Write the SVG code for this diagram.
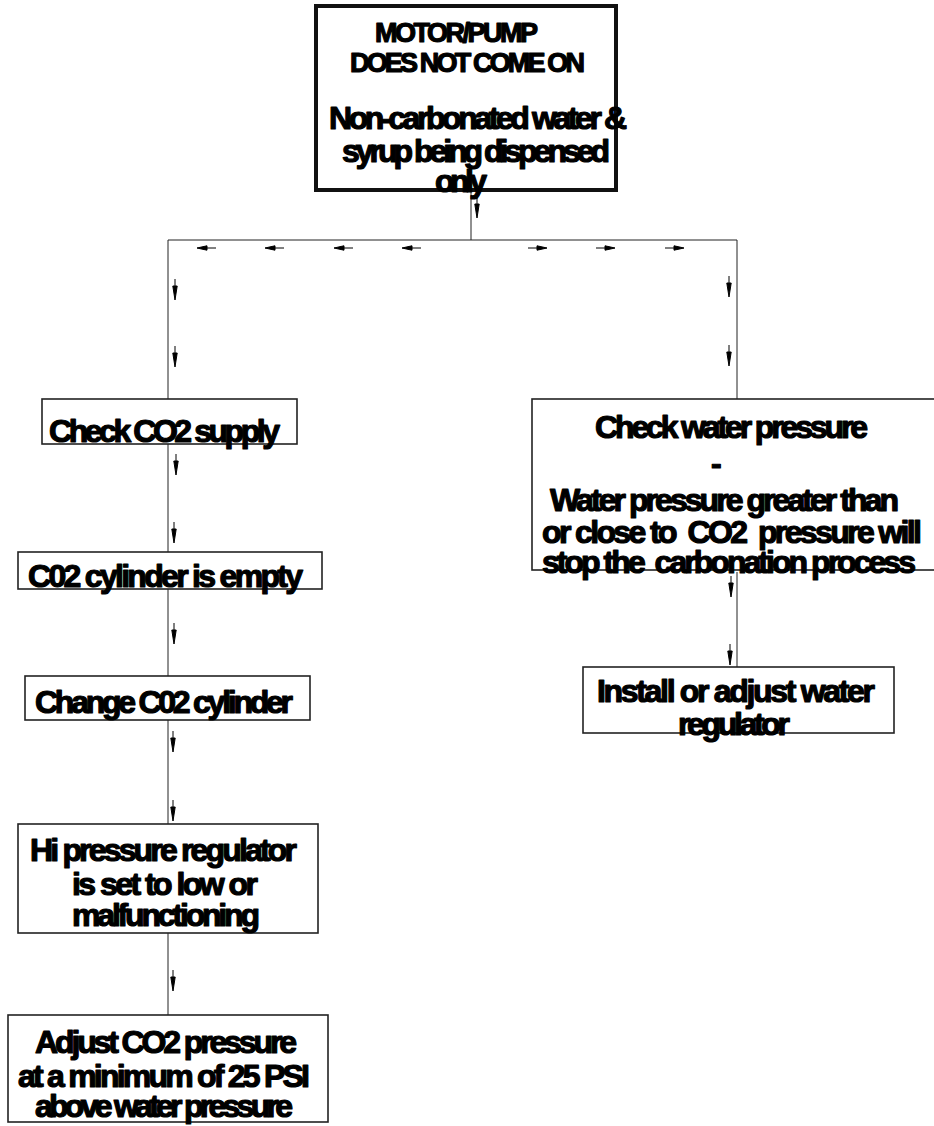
<svg xmlns="http://www.w3.org/2000/svg" xmlns:xlink="http://www.w3.org/1999/xlink" width="934" height="1126" viewBox="0 0 934 1126">
<style>
.t{font-family:"Liberation Sans",Arial,sans-serif;font-weight:bold;font-size:32px;fill:#000;stroke:#000;stroke-width:1.2;stroke-linejoin:round;white-space:pre}
.s{font-size:27px}
.box{fill:none;stroke:#222;stroke-width:1.6}
.thick{fill:none;stroke:#111;stroke-width:4}
.ln{fill:none;stroke:#222;stroke-width:1}
.ar{fill:#000;stroke:#000;stroke-width:1}
</style>
<defs>
<path id="ad" d="M0,0V8M-2.2,7L2.2,7L0,21Z"/>
<path id="al" d="M19,0H9M10,-2.2L10,2.2L0,0Z"/>
<path id="ar" d="M0,0H10M9,-2.2L9,2.2L19,0Z"/>
</defs>
<rect width="934" height="1126" fill="#fff"/>
<g id="connectors">
<path class="ln" d="M471,190V240M168,240H737M168,240V399M737,240V399M168,444V552M168,589V676M168,720V824M168,933V1015M737,572V667"/>
<g class="ar">
<use xlink:href="#ad" x="477" y="197"/>
<use xlink:href="#al" x="197" y="248"/>
<use xlink:href="#al" x="265" y="248"/>
<use xlink:href="#al" x="334" y="248"/>
<use xlink:href="#al" x="402" y="248"/>
<use xlink:href="#ar" x="528" y="248"/>
<use xlink:href="#ar" x="596" y="248"/>
<use xlink:href="#ar" x="665" y="248"/>
<use xlink:href="#ad" x="175" y="279"/>
<use xlink:href="#ad" x="175" y="346"/>
<use xlink:href="#ad" x="729" y="276"/>
<use xlink:href="#ad" x="729" y="345"/>
<use xlink:href="#ad" x="176" y="454"/>
<use xlink:href="#ad" x="174" y="522"/>
<use xlink:href="#ad" x="174" y="623"/>
<use xlink:href="#ad" x="173" y="731"/>
<use xlink:href="#ad" x="173" y="800"/>
<use xlink:href="#ad" x="173" y="970"/>
<use xlink:href="#ad" x="731" y="576"/>
<use xlink:href="#ad" x="730" y="644"/>
</g>
</g>
<g id="n_top">
<rect class="thick" x="316" y="6" width="300" height="184"/>
<text class="t s" x="375" y="42" textLength="163">MOTOR/PUMP</text>
<text class="t s" x="350" y="72" textLength="235">DOES NOT COME ON</text>
<text class="t" x="329" y="129" textLength="298">Non-carbonated water &amp;</text>
<text class="t" x="342" y="162" textLength="268">syrup being dispensed</text>
<text class="t" x="435" y="192" textLength="52">only</text>
</g>
<g id="n_co2supply">
<rect class="box" x="42" y="399" width="255" height="45"/>
<text class="t" x="49" y="442" textLength="231">Check CO2 supply</text>
</g>
<g id="n_empty">
<rect class="box" x="18" y="552" width="304" height="37"/>
<text class="t" x="28" y="587" textLength="275">C02 cylinder is empty</text>
</g>
<g id="n_change">
<rect class="box" x="25" y="676" width="285" height="44"/>
<text class="t" x="35" y="713" textLength="258">Change C02 cylinder</text>
</g>
<g id="n_hireg">
<rect class="box" x="18" y="824" width="300" height="109"/>
<text class="t" x="30" y="861" textLength="267">Hi pressure regulator</text>
<text class="t" x="72" y="895" textLength="186">is set to low or</text>
<text class="t" x="72" y="926" textLength="188">malfunctioning</text>
</g>
<g id="n_adjust">
<rect class="box" x="8" y="1015" width="320" height="107"/>
<text class="t" x="35" y="1053" textLength="262">Adjust CO2 pressure</text>
<text class="t" x="18" y="1087" textLength="292">at a minimum of 25 PSI</text>
<text class="t" x="35" y="1117" textLength="258">above water pressure</text>
</g>
<g id="n_water">
<rect class="box" x="532" y="399" width="410" height="171"/>
<text class="t" x="595" y="438" textLength="273">Check water pressure</text>
<text class="t" x="711" y="474">-</text>
<text class="t" x="550" y="511" textLength="349">Water pressure greater than</text>
<text class="t" x="542" y="543" textLength="380" xml:space="preserve">or close to  CO2  pressure will</text>
<text class="t" x="542" y="573" textLength="374" xml:space="preserve">stop the  carbonation process</text>
</g>
<g id="n_install">
<rect class="box" x="583" y="667" width="311" height="66"/>
<text class="t" x="597" y="702" textLength="278">Install or adjust water</text>
<text class="t" x="678" y="735" textLength="112">regulator</text>
</g>
</svg>
